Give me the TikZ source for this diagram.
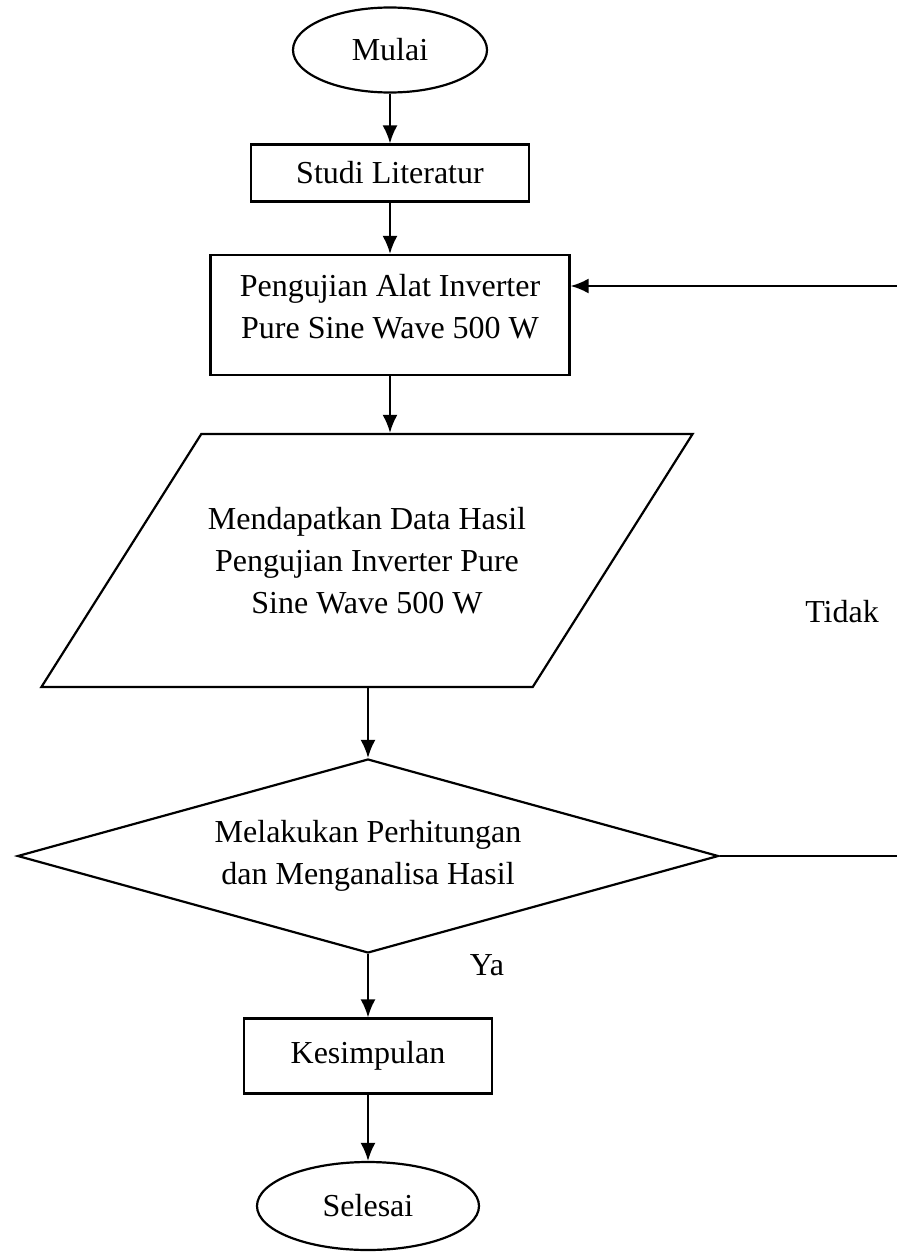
\documentclass[tikz,border=0pt]{standalone}
\usepackage{fontspec}
\setmainfont{Liberation Serif}
\usetikzlibrary{shapes.geometric,arrows.meta}

\begin{document}
\begin{tikzpicture}[x=0.5pt, y=-0.5pt, line width=1.1pt,
    every node/.style={font=\fontsize{16}{21}\selectfont},
    box/.style={rectangle, draw, line width=1.1pt},
    term/.style={ellipse, draw, line width=1.1pt},
    arr/.style={-{Latex[length=9pt,width=7.5pt]}}]
  
    \useasboundingbox (0,0) rectangle (897,1252);
  
    \node[term, minimum width=97pt, minimum height=42.5pt] (mulai) at (390,50) {Mulai};
    \node[box, minimum width=139pt, minimum height=28.5pt] (studi) at (390,173) {Studi Literatur};
    \node[box, minimum width=179.5pt, minimum height=60pt] (peng) at (390,315) {};
    \node[align=center] (pengtxt) at (390,307) {Pengujian Alat Inverter\\Pure Sine Wave 500 W};
    \node[trapezium, draw, line width=1.1pt, trapezium left angle=36.9, trapezium right angle=143.1,
      trapezium stretches body, minimum width=315pt, minimum height=126.5pt, align=center]
      (data) at (367,560.5) {Mendapatkan Data Hasil\\Pengujian Inverter Pure\\Sine Wave 500 W};
    \node[diamond, draw, line width=1.1pt, aspect=3.6, minimum width=350.5pt, minimum height=97pt,
      inner sep=0pt, align=center] (hitung) at (368,856) {Melakukan Perhitungan\\dan Menganalisa Hasil};
    \node[box, minimum width=124pt, minimum height=37.5pt] (kes) at (368,1056) {Kesimpulan};
    \node[term, minimum width=111pt, minimum height=44pt] (selesai) at (368,1206) {Selesai};
  
    \node (ya) at (487,965) {Ya};
    \node (tidak) at (842,612) {Tidak};
  
    \coordinate (rtop) at (897,286);
    \coordinate (rbot) at (897,856);
  
    \draw[arr] (mulai) -- (studi);
    \draw[arr] (studi) -- (peng);
    \draw[arr] (peng) -- (peng |- data.north);
    \draw[arr] (data.south -| hitung) -- (hitung);
    \draw[arr] (hitung) -- (kes);
    \draw[arr] (kes) -- (selesai);
    \draw (hitung.east) -- (rbot);
    \draw[arr] (rtop) -- (rtop -| peng.east);
  
  \end{tikzpicture}
\end{document}
